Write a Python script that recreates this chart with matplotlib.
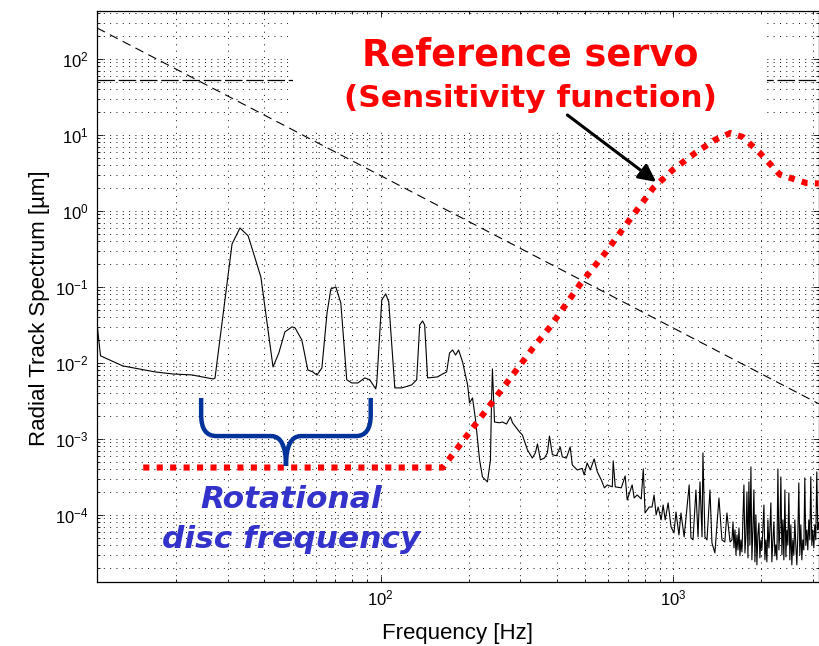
import numpy as np
import matplotlib
matplotlib.use('Agg')
import matplotlib.pyplot as plt
from matplotlib.patches import Rectangle, PathPatch
from matplotlib.path import Path

plt.rcParams['font.family'] = ['Liberation Sans', 'DejaVu Sans']
plt.rcParams['mathtext.fontset'] = 'custom'
plt.rcParams['mathtext.rm'] = 'Liberation Sans'
plt.rcParams['mathtext.it'] = 'Liberation Sans:italic'

spec_f = [10.7, 11.0, 13.1, 16.9, 19.4, 22.6, 26.7, 27.1, 31.0, 33.0, 35.2, 38.9,
          42.8, 44.8, 47.0, 49.7, 50.9, 53.7, 56.3, 58.6, 60.5, 62.9, 65.5, 67.5,
          70.2, 73.0, 76.5, 79.6, 83.5, 88.2, 91.7, 96.1, 96.9, 100.8, 104, 106.5,
          111.7, 118, 127.6, 132.7, 135.9, 139, 141.3, 144.6, 156.6, 162.8, 168,
          171.9, 176.1, 180.3, 184.6, 190.5, 198.2, 201.2, 206, 211, 217.8, 222.8,
          231.7, 237.3, 239.2, 241, 245, 254.7, 260.6, 269.2, 277.7, 282.4, 298,
          305, 317.6, 330, 338, 343.6, 351.6, 363, 371.5, 377.6, 386.5, 399, 411,
          418, 431.5, 444.6, 452, 470, 488.7, 496.6, 508, 521, 537, 550.6, 568,
          582, 595.7, 619.4, 624, 634, 665, 685.5, 696.6, 724.4, 736, 753.6, 778,
          790.7, 802, 828, 847, 861, 875, 889, 910, 924.6, 939.7, 961.6, 984,
          1007, 1023, 1047, 1064, 1091, 1135, 1151, 1170, 1197, 1217, 1236, 1256,
          1265, 1285, 1306, 1337, 1358, 1390, 1435, 1469, 1503, 1528, 1566,
          1590, 1603, 1615, 1628, 1641, 1654, 1667, 1680, 1693, 1706, 1720, 1733,
          1747, 1761, 1775, 1789, 1803, 1817, 1831, 1846, 1860, 1875, 1890, 1905,
          1920, 1935, 1950, 1966, 1981, 1997, 2013, 2029, 2045, 2061, 2077, 2093,
          2110, 2127, 2143, 2160, 2177, 2195, 2212, 2230, 2247, 2265, 2283, 2301,
          2319, 2337, 2356, 2374, 2393, 2412, 2431, 2450, 2469, 2489, 2508, 2528,
          2548, 2568, 2588, 2609, 2629, 2650, 2671, 2692, 2713, 2735, 2756, 2778,
          2800, 2822, 2844, 2867, 2889, 2912, 2935, 2958, 2982, 3005, 3029, 3053,
          3077, 3101, 3126, 3150]
spec_v = [0.033, 0.0124, 0.00914, 0.00762, 0.00716, 0.00695, 0.00615, 0.0063,
          0.368, 0.597, 0.469, 0.135, 0.00885, 0.0135, 0.0256, 0.0298, 0.029,
          0.0201, 0.0081, 0.0076, 0.0069, 0.0086, 0.0455, 0.094, 0.100, 0.0616,
          0.0060, 0.00545, 0.00545, 0.00635, 0.0060, 0.00455, 0.00545, 0.0675,
          0.081, 0.0635, 0.00469, 0.00469, 0.00514, 0.0060, 0.0316, 0.0357, 0.0316,
          0.00635, 0.00655, 0.00716, 0.0076, 0.0135, 0.0148, 0.0127, 0.0148,
          0.0103, 0.00514, 0.00298, 0.00346, 0.00178, 5.3e-4, 3.16e-4, 2.72e-4,
          5.3e-4, 0.00298, 0.00834, 0.00167, 0.00163, 0.00167, 0.00157, 0.00195,
          0.00163, 0.00124, 0.00113, 7.16e-4, 5.6e-4, 6.55e-4, 8.6e-4, 5.3e-4,
          5.6e-4, 6.55e-4, 1.09e-3, 6.2e-4, 6.0e-4, 7.85e-4, 5.8e-4, 5.6e-4,
          7.85e-4, 4.55e-4, 3.9e-4, 4.1e-4, 3.36e-4, 4.83e-4, 3.9e-4, 5.45e-4,
          3.68e-4, 2.89e-4, 2.27e-4, 2.48e-4, 2.34e-4, 5.14e-4, 2.34e-4, 2.27e-4,
          3.26e-4, 1.57e-4, 2.48e-4, 1.67e-4, 1.83e-4, 1.62e-4, 4.03e-4, 1.06e-4,
          1.27e-4, 1.27e-4, 1.83e-4, 1.0e-4, 1.27e-4, 8.6e-5, 1.35e-4, 8.6e-5,
          1.44e-4, 6.95e-5, 5.8e-5, 1.09e-4, 5.45e-5, 1.06e-4, 5.14e-5, 2.48e-4,
          4.98e-5, 4.69e-5, 2.13e-4, 5.14e-5, 2.72e-4, 5.14e-5, 6.55e-4, 5.14e-5,
          4.69e-5, 2.13e-4, 4.28e-5, 3.16e-5, 1.67e-4, 4.69e-5, 4.4e-5, 1.06e-4,
          4.4e-5,
          4.69e-5, 8.1e-5, 3.68e-5, 6.35e-5, 2.98e-5, 5.45e-5, 3.46e-5, 6.75e-5,
          2.89e-5, 4.69e-5, 3.26e-5, 8.6e-5, 2.48e-4, 3.16e-5, 5.45e-5, 2.01e-4,
          2.72e-5, 2.72e-4, 4.03e-5, 4.28e-4, 2.56e-5, 6.35e-5, 2.13e-4, 2.41e-5,
          1.0e-4, 2.2e-5, 5.45e-5, 7.85e-5, 2.72e-5, 4.69e-5, 3.46e-5, 6.75e-5,
          1.35e-4, 2.56e-5, 4.69e-5, 2.41e-5, 8.6e-5, 3.68e-5, 6.35e-5, 1.44e-4,
          2.41e-5, 4.69e-5, 8.1e-5, 2.89e-5, 4.03e-5, 2.56e-5, 4.03e-4, 3.46e-5,
          6.35e-5, 3.16e-4, 2.98e-5, 8.6e-5, 2.56e-5, 2.13e-4, 2.8e-5, 6.35e-5,
          4.03e-5, 1.95e-4, 2.56e-5, 7.4e-5, 2.2e-5, 4.69e-5, 2.98e-5, 8.6e-5,
          4.03e-5, 2.2e-5, 5.45e-5, 2.64e-4, 2.98e-5, 7.4e-5, 2.56e-5, 4.69e-5,
          3.46e-5, 3.07e-4, 4.03e-5, 6.35e-5, 3.46e-5, 8.6e-5, 4.69e-5, 3.16e-4,
          4.03e-5, 6.35e-5, 3.68e-5, 7.4e-5, 4.69e-5, 3.68e-4, 6.35e-5, 7.85e-5]

# reference servo sensitivity function
servo_f = [15.4, 163, 176, 241, 332, 380, 482, 586, 702, 855, 1000, 1190, 1390,
           1570, 1730, 1980, 2320, 2860, 3150]
servo_v = [4.2e-4, 4.2e-4, 6.2e-4, 3.07e-3, 0.0158, 0.030, 0.11, 0.28, 0.72, 2.0,
           3.5, 5.8, 8.6, 10.6, 9.4, 5.8, 3.0, 2.33, 2.3]

# 1/f^2 guide and horizontal level
guide_f = [10.7, 3150]
guide_v = [256, 2.9e-3]
level_v = 53

# curly brace around the rotational frequency band
brace_f = [24.3, 24.3, 24.3, 27.4, 42.2, 47.4, 47.4, 47.4, 53.3, 82.2, 92.4, 92.4, 92.4]
brace_v = [3.46e-3, 2.07e-3, 1.09e-3, 1.09e-3, 1.09e-3, 1.09e-3, 4.4e-4, 1.09e-3,
           1.09e-3, 1.09e-3, 1.09e-3, 2.07e-3, 3.46e-3]
brace_codes = [Path.MOVETO, Path.LINETO, Path.CURVE3, Path.CURVE3, Path.LINETO,
               Path.CURVE3, Path.CURVE3, Path.CURVE3, Path.CURVE3, Path.LINETO,
               Path.CURVE3, Path.CURVE3, Path.LINETO]

# arrow: tail near the label, head on the servo curve
arrow_tail = (435, 18.3)
arrow_head = (875, 2.41)

fig = plt.figure(figsize=(8.2, 6.46), dpi=100)
ax = fig.add_axes([0.1183, 0.0991, 0.8802, 0.8839])
ax.set_xscale('log'); ax.set_yscale('log')
ax.set_xlim(10.7, 3150)
ax.set_ylim(1.31e-5, 428)

ax.grid(True, which='both', color='0.05', lw=0.7, ls=(0, (1, 5.5)))
ax.tick_params(which='both', direction='in', top=True, right=True, width=0.6,
               labelsize=12)
ax.tick_params(which='major', length=4.5)
ax.tick_params(which='minor', length=2.2)
ax.tick_params(axis='y', pad=6)
ax.tick_params(axis='x', pad=5)
for s in ax.spines.values():
    s.set_linewidth(0.9)

ax.plot(guide_f, guide_v, color='k', lw=0.8, ls=(0, (8, 5)), zorder=2)
ax.axhline(level_v, color='k', lw=0.9, ls=(0, (14, 3)), zorder=2)

ax.add_patch(Rectangle((0.271, 0.795), 0.657, 0.193, transform=ax.transAxes,
                       facecolor='white', edgecolor='none', zorder=2.8))

ax.plot(spec_f, spec_v, color='k', lw=0.8, zorder=3)
ax.plot(servo_f, servo_v, color='red', lw=4.4, ls=(0, (1.0, 1.2)), zorder=4)

brace = Path(list(zip(brace_f, brace_v)), brace_codes)
ax.add_patch(PathPatch(brace, transform=ax.transData, fill=False,
                       edgecolor='#003399', lw=3.2, capstyle='butt', zorder=5))

ax.annotate('', xy=arrow_head, xytext=arrow_tail,
            arrowprops=dict(arrowstyle='-|>', color='k', lw=2.2,
                            mutation_scale=26, shrinkA=0, shrinkB=0), zorder=6)

bold = ['DejaVu Sans']
ax.text(0.600, 0.905, 'Reference servo', transform=ax.transAxes, ha='center',
        va='baseline', color='red', fontsize=26.4, fontweight='bold', family=bold, zorder=6)
ax.text(0.600, 0.832, '(Sensitivity function)', transform=ax.transAxes, ha='center',
        va='baseline', color='red', fontsize=22.5, fontweight='bold', family=bold, zorder=6)
ax.text(0.269, 0.1296, 'Rotational', transform=ax.transAxes, ha='center',
        va='baseline', color='#3333cc', fontsize=22.5, fontweight='bold',
        style='italic', family=bold, zorder=6)
ax.text(0.269, 0.0595, 'disc frequency', transform=ax.transAxes, ha='center',
        va='baseline', color='#3333cc', fontsize=22.5, fontweight='bold',
        style='italic', family=bold, zorder=6)

ax.set_xlabel('Frequency [Hz]', fontsize=16, labelpad=10)
ax.set_ylabel('Radial Track Spectrum [µm]', fontsize=16, labelpad=4)
ax.yaxis.label.set_y(0.48)

fig.savefig('out.png', dpi=100)
